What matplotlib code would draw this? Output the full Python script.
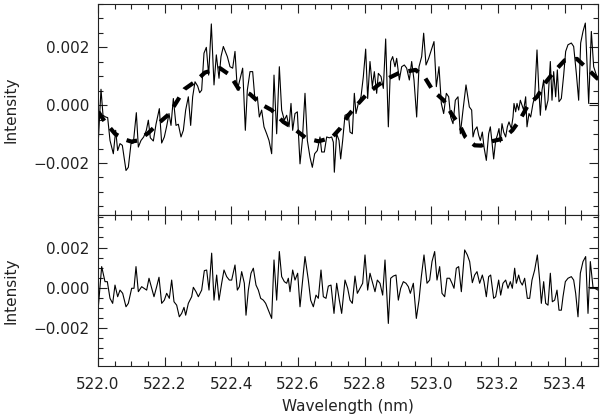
import numpy as np
import matplotlib
matplotlib.use("Agg")
import matplotlib.pyplot as plt
from matplotlib.ticker import MultipleLocator, FuncFormatter

# ---------------- data (intensities in units of 1e-3) ----------------
wl_obs = [522.001, 522.009, 522.015, 522.023, 522.029, 522.036, 522.046, 522.053, 522.059, 522.066,
          522.073, 522.084, 522.091, 522.099, 522.106, 522.115, 522.121, 522.129, 522.137, 522.145,
          522.151, 522.157, 522.166, 522.174, 522.184, 522.191, 522.199, 522.206, 522.213, 522.219,
          522.226, 522.234, 522.241, 522.249, 522.256, 522.263, 522.271, 522.278, 522.284, 522.291,
          522.299, 522.305, 522.311, 522.318, 522.325, 522.332, 522.340, 522.348, 522.355, 522.363,
          522.369, 522.376, 522.388, 522.396, 522.404, 522.411, 522.418, 522.428, 522.434, 522.442,
          522.448, 522.456, 522.464, 522.471, 522.478, 522.484, 522.491, 522.498, 522.506, 522.513,
          522.521, 522.528, 522.536, 522.544, 522.551, 522.559, 522.566, 522.573, 522.579, 522.584,
          522.591, 522.598, 522.606, 522.613, 522.621, 522.628, 522.636, 522.643, 522.650, 522.658,
          522.666, 522.671, 522.679, 522.686, 522.694, 522.701, 522.706, 522.709, 522.716, 522.723,
          522.728, 522.734, 522.741, 522.751, 522.756, 522.763, 522.769, 522.774, 522.781, 522.789,
          522.796, 522.803, 522.809, 522.816, 522.823, 522.829, 522.836, 522.841, 522.849, 522.856,
          522.863, 522.871, 522.878, 522.884, 522.891, 522.896, 522.904, 522.911, 522.919, 522.926,
          522.934, 522.941, 522.948, 522.956, 522.963, 522.971, 522.977, 522.984, 522.992, 523.000,
          523.008, 523.015, 523.023, 523.030, 523.037, 523.045, 523.052, 523.058, 523.065, 523.072,
          523.080, 523.087, 523.095, 523.104, 523.114, 523.121, 523.125, 523.130, 523.137, 523.142,
          523.147, 523.153, 523.158, 523.165, 523.172, 523.177, 523.182, 523.187, 523.193, 523.198,
          523.203, 523.207, 523.212, 523.217, 523.223, 523.228, 523.233, 523.240, 523.245, 523.248,
          523.253, 523.257, 523.262, 523.267, 523.277, 523.283, 523.287, 523.293, 523.298, 523.305,
          523.310, 523.317, 523.322, 523.327, 523.332, 523.337, 523.343, 523.350, 523.357, 523.362,
          523.367, 523.373, 523.378, 523.383, 523.390, 523.397, 523.403, 523.410, 523.420, 523.427,
          523.435, 523.442, 523.448, 523.455, 523.462, 523.472, 523.480, 523.487, 523.500]
int_obs = [-1.22, 0.55, -0.35, -0.41, -0.43, -1.22, -1.68, -0.87, -1.57, -1.33,
           -1.39, -2.26, -2.15, -1.33, -1.31, -0.26, -1.45, -1.22, -1.10, -0.87,
           -0.52, -1.13, -1.24, -0.66, -0.12, -1.31, -1.10, -0.73, -0.29, -0.70,
           0.23, -0.70, -0.66, -1.10, -0.87, -0.17, 0.29, -0.70, 0.29, 0.81,
           0.66, 0.43, 0.52, 1.80, 2.00, 1.04, 2.81, 0.70, 1.74, 0.93,
           1.68, 2.03, 1.68, 1.33, 1.28, 1.86, 0.52, 0.99, 1.28, -0.87,
           0.52, 1.16, 1.16, 0.17, 0.29, -0.41, -0.17, -0.75, -0.99, -1.22,
           -1.68, 1.04, -0.99, 1.33, -0.17, -0.52, -0.35, -0.75, 0.06, -0.87,
           -0.29, -0.23, -2.03, -1.22, 0.41, -1.22, -1.80, -2.15, -1.68, -1.57,
           -1.10, -1.62, -1.62, -1.10, -1.13, -1.10, -1.28, -2.32, -0.99, -1.22,
           -1.86, -1.22, -0.35, -0.29, -0.93, -0.99, 0.41, -0.29, 0.06, 0.29,
           0.99, 1.94, 0.23, 1.51, 0.64, 1.16, 0.41, 1.10, 0.99, 0.58,
           2.29, -0.75, 1.51, 1.68, 1.33, 1.62, 0.87, 1.33, 1.39, 1.28,
           0.87, 1.51, 0.87, -0.41, 1.33, 1.68, 2.49, 1.39, 1.62, 1.91,
           2.20, 0.64, 1.33, 0.06, -0.29, 0.41, 0.29, -0.41, -0.64, 0.17,
           0.29, -0.99, -0.17, 0.70, -0.06, -0.17, -1.10, -0.87, -0.75, -1.04,
           -1.22, -0.93, -1.45, -1.91, -0.99, -0.75, -1.28, -1.86, -1.22, -1.04,
           -0.81, -1.28, -0.64, -0.93, -1.10, -0.75, -0.58, -0.81, -0.41, 0.06,
           -0.23, 0.06, -0.17, 0.17, -0.17, 0.29, -0.75, -0.29, -0.41, 0.06,
           0.29, 1.91, 0.64, -0.35, 0.52, 0.87, -0.17, 0.17, 1.51, 0.17,
           1.16, 0.29, 1.22, 0.12, 0.23, 1.04, 1.86, 2.09, 2.15, 2.03,
           1.10, 0.17, 2.15, 2.55, 2.84, 0.06, 2.55, 1.33, 0.87]

wl_fit = [522.001, 522.021, 522.051, 522.081, 522.100, 522.121, 522.151, 522.186, 522.213, 522.239,
          522.259, 522.291, 522.321, 522.366, 522.396, 522.421, 522.456, 522.491, 522.521, 522.556,
          522.588, 522.624, 522.661, 522.701, 522.726, 522.751, 522.781, 522.809, 522.841, 522.876,
          522.906, 522.953, 522.982, 523.005, 523.037, 523.060, 523.085, 523.102, 523.130, 523.150,
          523.170, 523.215, 523.243, 523.265, 523.290, 523.318, 523.345, 523.370, 523.400, 523.437,
          523.470, 523.500]
int_fit = [-0.23, -0.58, -0.99, -1.19, -1.26, -1.22, -0.96, -0.58, -0.31, 0.17,
           0.55, 0.81, 1.13, 1.28, 1.04, 0.58, 0.38, 0.02, -0.17, -0.58,
           -0.81, -1.14, -1.25, -1.13, -0.81, -0.35, 0.06, 0.41, 0.70, 0.96,
           1.13, 1.22, 0.93, 0.50, 0.17, -0.29, -0.70, -1.10, -1.39, -1.40,
           -1.28, -1.16, -0.87, -0.52, 0.00, 0.30, 0.82, 1.18, 1.55, 1.60,
           1.24, 0.90]

wl_res = [522.001, 522.011, 522.021, 522.028, 522.036, 522.044, 522.051, 522.059, 522.066, 522.074,
          522.084, 522.091, 522.101, 522.108, 522.114, 522.121, 522.131, 522.138, 522.146, 522.153,
          522.161, 522.168, 522.176, 522.183, 522.191, 522.199, 522.206, 522.214, 522.221, 522.228,
          522.236, 522.244, 522.251, 522.258, 522.263, 522.271, 522.281, 522.286, 522.294, 522.301,
          522.311, 522.319, 522.326, 522.333, 522.341, 522.348, 522.356, 522.363, 522.371, 522.378,
          522.386, 522.394, 522.401, 522.411, 522.418, 522.424, 522.431, 522.439, 522.444, 522.451,
          522.459, 522.466, 522.474, 522.481, 522.488, 522.496, 522.503, 522.511, 522.521, 522.528,
          522.536, 522.544, 522.551, 522.559, 522.566, 522.571, 522.576, 522.584, 522.591, 522.599,
          522.606, 522.621, 522.631, 522.638, 522.646, 522.654, 522.661, 522.669, 522.676, 522.684,
          522.691, 522.699, 522.708, 522.716, 522.724, 522.731, 522.741, 522.749, 522.756, 522.763,
          522.771, 522.778, 522.786, 522.794, 522.801, 522.809, 522.816, 522.824, 522.831, 522.838,
          522.846, 522.854, 522.861, 522.871, 522.878, 522.886, 522.894, 522.901, 522.908, 522.916,
          522.924, 522.931, 522.937, 522.946, 522.955, 522.963, 522.970, 522.978, 522.987, 522.995,
          523.002, 523.010, 523.017, 523.025, 523.032, 523.040, 523.047, 523.055, 523.062, 523.068,
          523.075, 523.082, 523.090, 523.100, 523.108, 523.115, 523.123, 523.130, 523.137, 523.145,
          523.153, 523.158, 523.165, 523.172, 523.178, 523.187, 523.193, 523.202, 523.208, 523.215,
          523.223, 523.230, 523.237, 523.243, 523.250, 523.255, 523.262, 523.267, 523.273, 523.280,
          523.288, 523.295, 523.302, 523.310, 523.318, 523.325, 523.330, 523.337, 523.343, 523.350,
          523.357, 523.363, 523.370, 523.377, 523.383, 523.390, 523.395, 523.402, 523.410, 523.420,
          523.427, 523.433, 523.440, 523.447, 523.455, 523.463, 523.470, 523.477, 523.485, 523.500]
int_res = [-0.95, 1.05, 0.30, 0.30, -0.53, -0.78, 0.13, -0.45, -0.12, -0.28,
           -0.95, -0.78, -0.03, -0.03, 1.05, -0.20, 0.05, -0.03, -0.12, 0.47,
           -0.03, -0.45, 0.05, 0.52, -0.78, -0.62, -0.28, -0.53, 0.38, -0.70,
           -0.87, -1.45, -1.28, -0.98, -1.37, -0.78, -0.45, 0.02, -0.20, -0.45,
           -0.12, 0.85, 0.88, -0.12, 1.72, -0.62, 0.63, -0.62, 0.22, 0.88,
           0.55, 0.38, 0.38, 1.13, -0.12, 0.05, 0.80, 0.22, -1.37, -0.12,
           0.72, 0.97, 0.13, -0.12, -0.53, -0.62, -0.78, -1.12, -1.53, 1.38,
           -0.62, 1.80, 0.55, 0.30, 0.22, 0.47, -0.20, 0.88, 0.38, 0.72,
           -0.95, 1.55, 0.38, -0.62, -0.95, -0.37, -0.53, 0.88, -0.45, -0.53,
           0.08, 0.13, -1.28, 0.22, -0.62, -1.28, 0.38, -0.03, -0.62, -0.78,
           0.58, -0.28, -0.03, 0.22, 1.63, -0.12, 0.72, 0.22, -0.20, 0.38,
           0.22, -0.37, 1.38, -1.78, 0.47, 0.58, 0.63, -0.62, -0.03, 0.30,
           0.22, 0.05, -0.28, 0.22, -1.53, -0.62, 0.55, 1.63, 0.22, 0.38,
           1.30, 1.80, 0.38, 1.05, -0.28, -0.45, 0.47, 0.47, 0.22, -0.03,
           0.97, 1.05, -0.20, 1.88, 1.63, 1.30, 0.25, 0.63, 0.80, 0.22,
           0.63, 0.30, -0.45, 0.55, 0.63, -0.53, -0.45, 0.38, -0.37, 0.22,
           0.38, -0.03, 0.30, -0.03, 0.97, 0.22, 0.63, 0.30, 0.13, 0.47,
           -0.53, -0.53, 0.38, 0.88, 1.63, 0.38, -0.78, 0.30, -0.78, -0.87,
           0.72, -0.70, -0.62, -0.12, -1.12, -1.12, -0.45, 0.30, 0.47, 0.55,
           0.38, -0.28, -1.45, 0.72, 1.30, 1.55, -1.28, 1.30, 0.02, -0.12]

SCALE = 1e-3
x_range = (522.0, 523.5)
top_ylim = (-3.8, 3.5)
bot_ylim = (-3.9, 3.62)

# ---------------- figure ----------------
plt.rcParams['font.family'] = ['DejaVu Sans']
fig = plt.figure(figsize=(6.0, 4.19), dpi=100)
ax1 = fig.add_axes([98/600, (419-215)/419, 500/600, 211/419])
ax2 = fig.add_axes([98/600, (419-366)/419, 500/600, 151/419], sharex=ax1)

ax1.plot(wl_obs, np.array(int_obs) * SCALE, color='black', lw=0.8)
ax1.plot(wl_fit, np.array(int_fit) * SCALE, color='black', lw=3.0,
         linestyle=(0, (2.6, 2.3)), dash_capstyle='butt')
# step at right edge (last sample drawn to the border)
ax1.hlines(int_obs[-4] * SCALE, wl_obs[-4], x_range[1], color='black', lw=0.8)
ax2.plot(wl_res, np.array(int_res) * SCALE, color='black', lw=0.8)
ax2.hlines(int_res[-2] * SCALE, wl_res[-4], x_range[1], color='black', lw=0.8)

fmt = FuncFormatter(lambda v, p: ('%.3f' % v).replace('-', '\u2212') if abs(v) > 1e-12 else '0.000')

for ax, yl in ((ax1, top_ylim), (ax2, bot_ylim)):
    ax.set_xlim(*x_range)
    ax.set_ylim(yl[0] * SCALE, yl[1] * SCALE)
    ax.xaxis.set_major_locator(MultipleLocator(0.2))
    ax.xaxis.set_minor_locator(MultipleLocator(0.05))
    ax.yaxis.set_major_locator(MultipleLocator(0.002))
    ax.yaxis.set_minor_locator(MultipleLocator(0.0005))
    ax.yaxis.set_major_formatter(fmt)
    ax.tick_params(which='both', direction='in', top=True, right=True,
                   width=0.8, colors='#222222', labelsize=11, labelcolor='#222222')
    ax.tick_params(which='major', length=6.5)
    ax.tick_params(which='minor', length=3.6)
    ax.tick_params(axis='y', pad=6)
    ax.tick_params(axis='x', pad=8)
    for s in ax.spines.values():
        s.set_linewidth(0.8)
        s.set_color('#222222')
    ax.set_ylabel('Intensity', fontsize=11, color='#222222')
    ax.yaxis.set_label_coords(-0.158, 0.5)

ax2.xaxis.set_major_formatter(FuncFormatter(lambda v, p: '%.1f' % v))
plt.setp(ax1.get_xticklabels(), visible=False)
ax2.set_xlabel('Wavelength (nm)', fontsize=11, color='#222222', labelpad=5)

fig.savefig('out.png', dpi=100)
